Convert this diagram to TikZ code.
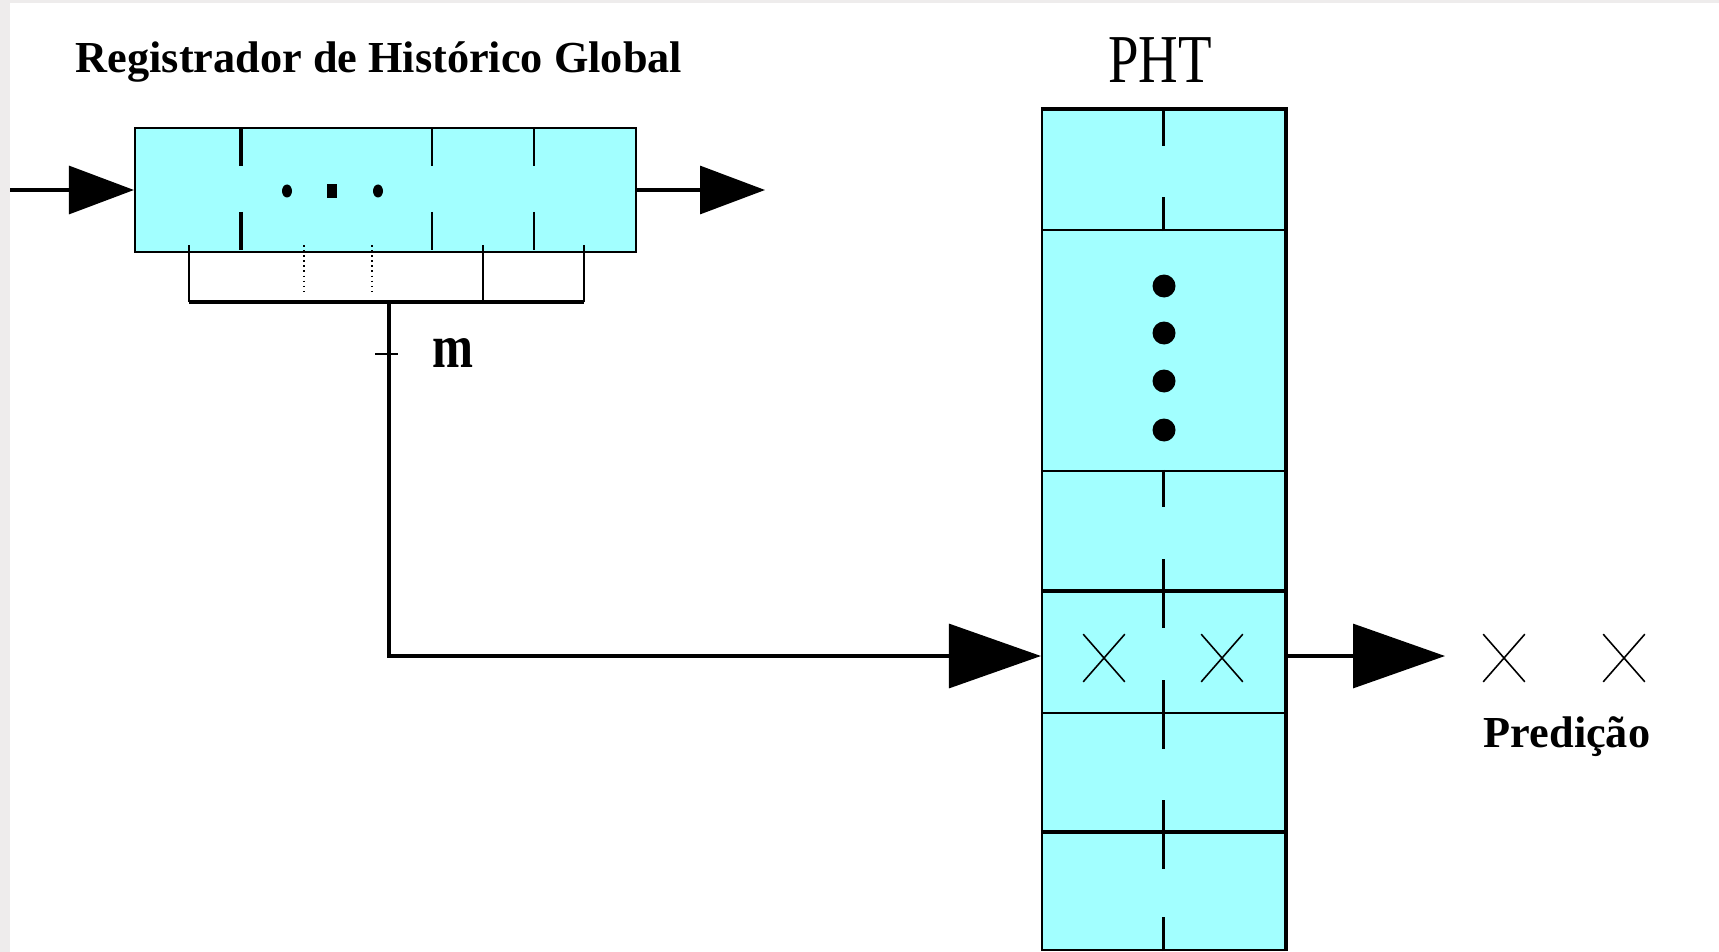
\documentclass[tikz,border=0pt]{standalone}
\usepackage{fontspec}
\setmainfont{Liberation Serif}
\newfontfamily\narrowfont[FakeStretch=0.8]{Liberation Serif}
\usetikzlibrary{arrows.meta,fit,shapes.misc}
\definecolor{CellCyan}{HTML}{A2FFFF}
\definecolor{EdgeGrey}{HTML}{EEECEC}

\begin{document}
\begin{tikzpicture}[
  x=0.1mm, y=-0.1mm,
  cell/.style={draw, fill=CellCyan, line width=0.6pt, inner sep=0pt},
  wire/.style={line width=0.9pt},
  tap/.style={line width=0.45pt},
  heavy/.style={line width=1.1pt},
  smallhead/.style={-{Triangle[length=6.5mm, width=4.8mm]}},
  bighead/.style={-{Triangle[length=9.2mm, width=6.4mm]}},
  bitx/.style={cross out, draw, line width=0.45pt, minimum width=4mm, minimum height=4.6mm, inner sep=0pt},
  boldtext/.style={font=\bfseries\fontsize{12.6}{14}\selectfont, inner sep=0pt}
]
  % page
  \fill[white] (0,0) rectangle (1719,952);
  \fill[EdgeGrey] (0,0) rectangle (10,952);
  \fill[EdgeGrey] (0,0) rectangle (1719,3);
  \useasboundingbox (0,0) rectangle (1719,952);

  % global history register
  \node[boldtext, anchor=base west] (ghrlabel) at (75,73) {Registrador de Histórico Global};
  \node[cell, fit={(135,128) (636,252)}] (ghr) {};
  \foreach \x/\lw in {241/1.1pt, 432/0.6pt, 534/0.6pt} {
    \draw[line width=\lw] (\x,128) -- (\x,166);
    \draw[line width=\lw] (\x,212) -- (\x,250);
  }
  \fill (287,191) ellipse [x radius=5, y radius=6.5];
  \fill (327,184) rectangle (337,198);
  \fill (378,191) ellipse [x radius=5, y radius=6.5];

  \coordinate (ghrin) at (10,190);
  \coordinate (ghrout) at (765,190);
  \draw[wire, smallhead] (ghrin) -- (ghr.west);
  \draw[wire, smallhead] (ghr.east) -- (ghrout);

  % m bits taken from the register
  \foreach \x in {189,483,584} \draw[tap] (\x,245) -- (\x,302);
  \foreach \x in {304,372} \draw[tap, densely dotted] (\x,245) -- (\x,292);
  \draw[wire] (189,302) -- (584,302);
  \coordinate (bus) at (389,302);
  \draw[tap] (375,354) -- (398,354);
  \node[font=\narrowfont\bfseries\fontsize{17.5}{19}\selectfont, anchor=base, inner sep=0pt] (mlabel) at (453,367) {m};

  % pattern history table
  \node[font=\narrowfont\fontsize{19.5}{21}\selectfont, anchor=base, inner sep=0pt] (phtlabel) at (1160,83) {PHT};
  \foreach \name/\top/\bot in {r1/110/230, r2/230/471, r3/471/592, sel/592/713, r5/713/833, r6/833/950}
    \node[cell, fit={(1042,\top) (1285,\bot)}] (\name) {};
  \draw[heavy] (r1.north west) -- (r1.north east) -- (r6.south east);
  \draw[heavy] (sel.north west) -- (sel.north east);
  \draw[heavy] (r6.north west) -- (r6.north east);
  \foreach \row in {r1,r3,sel,r5,r6} {
    \draw[line width=0.6pt] (\row.north) -- ++(0,37);
    \draw[line width=0.6pt] (\row.south) -- ++(0,-34);
  }
  \foreach \y in {286,333,381,430}
    \fill (1164,\y) circle [radius=1.15mm];

  \node[bitx] (s1) at (1104,658) {};
  \node[bitx] (s2) at (1222,658) {};

  % indexing and prediction out
  \draw[wire, bighead] (bus) |- ([yshift=-0.35mm]sel.west);
  \coordinate (predout) at (1445,656);
  \draw[wire, bighead] ([yshift=-0.35mm]sel.east) -- (predout);
  \node[bitx] (p1) at (1504,658) {};
  \node[bitx] (p2) at (1624,658) {};
  \node[boldtext, anchor=base] (predlabel) at (1567,747) {Predição};
\end{tikzpicture}
\end{document}
